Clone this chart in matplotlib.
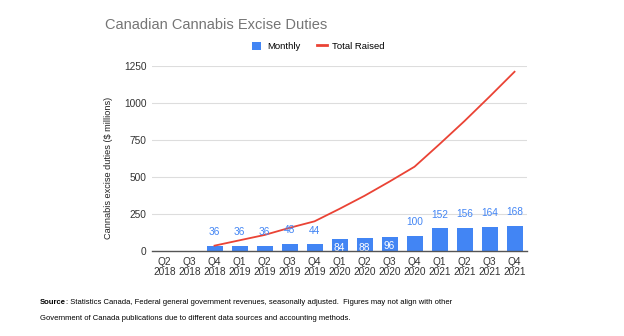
import matplotlib
matplotlib.use('Agg')
import matplotlib.pyplot as plt
from matplotlib.lines import Line2D
from matplotlib.patches import Patch
from matplotlib import font_manager

# quarters shown on the x axis
quarters = ['Q2\n2018', 'Q3\n2018', 'Q4\n2018',
            'Q1\n2019', 'Q2\n2019', 'Q3\n2019', 'Q4\n2019',
            'Q1\n2020', 'Q2\n2020', 'Q3\n2020', 'Q4\n2020',
            'Q1\n2021', 'Q2\n2021', 'Q3\n2021', 'Q4\n2021']

# monthly excise duties ($ millions), None where no data
monthly = [None, None, 36, 36, 36, 48, 44, 84, 88, 96, 100, 152, 156, 164, 168]

# cumulative total raised ($ millions)
total_raised = [None, None, 36, 72, 108, 156, 200, 284, 372, 468, 568, 720, 876, 1040, 1208]

# labels drawn inside the bar (white) for these quarters
inside_label = ['Q1\n2020', 'Q2\n2020', 'Q3\n2020']

yticks = [0, 250, 500, 750, 1000, 1250]

blue = '#4285F4'
red = '#EA4335'

plt.rcParams['font.family'] = ['Liberation Sans', 'DejaVu Sans']

fig = plt.figure(figsize=(6.24, 3.36), dpi=100)
ax = fig.add_axes([0.2436, 0.253, 0.601, 0.552])

x = list(range(len(quarters)))
bx = [i for i, v in zip(x, monthly) if v is not None]
bv = [v for v in monthly if v is not None]
ax.bar(bx, bv, width=0.64, color=blue, zorder=2)

lx = [i for i, v in zip(x, total_raised) if v is not None]
lv = [v for v in total_raised if v is not None]
ax.plot(lx, lv, color=red, lw=1.3, zorder=3)

# value labels
for i, v in zip(bx, bv):
    if quarters[i] in inside_label:
        ax.annotate(str(v), (i, v), xytext=(0, -7), textcoords='offset points',
                    ha='center', va='center', color='white', fontsize=7.3, zorder=4)
    else:
        ax.annotate(str(v), (i, v), xytext=(0, 10), textcoords='offset points',
                    ha='center', va='center', color=blue, fontsize=7.3, zorder=4)

ax.set_xlim(-0.5, len(quarters) - 0.5)
ax.set_ylim(0, 1250)
ax.set_yticks(yticks)
ax.set_yticklabels([str(t) for t in yticks])
ax.set_xticks(x)
ax.set_xticklabels(quarters, linespacing=1.0)
ax.tick_params(axis='both', length=0, labelsize=7.3, colors='#333333')
ax.tick_params(axis='x', pad=4)
ax.tick_params(axis='y', pad=4)
ax.grid(axis='y', color='#dddddd', lw=0.8, zorder=0)
for s in ['top', 'right', 'left']:
    ax.spines[s].set_visible(False)
ax.spines['bottom'].set_color('#555555')
ax.spines['bottom'].set_linewidth(1.0)
ax.spines['bottom'].set_zorder(5)

ax.set_ylabel('Cannabis excise duties ($ millions)', fontsize=6.6, color='#222222')
ax.yaxis.set_label_coords(-0.105, 0.45)

fig.text(0.168, 0.925, 'Canadian Cannabis Excise Duties', fontsize=10.5, color='#757575',
         ha='left', va='center')

handles = [Patch(facecolor=blue, edgecolor='none'),
           Line2D([0], [0], color=red, lw=2)]
fig.legend(handles, ['Monthly', 'Total Raised'], loc='center', bbox_to_anchor=(0.51, 0.862),
           ncol=2, frameon=False, fontsize=6.8, handlelength=1.0, handleheight=1.0,
           columnspacing=1.8, handletextpad=0.6)

# footnote
narrow = 'Liberation Sans Narrow'
try:
    font_manager.findfont(narrow, fallback_to_default=False)
    fam = [narrow, 'Liberation Sans']
    fs = 6.2
except Exception:
    fam = ['Liberation Sans']
    fs = 5.5
src = fig.text(0.064, 0.099, 'Source', fontsize=fs, fontweight='bold', family=fam,
               ha='left', va='center')
fig.canvas.draw()
bb = src.get_window_extent(renderer=fig.canvas.get_renderer())
x_after = bb.x1 / fig.bbox.width
fig.text(x_after, 0.099,
         ': Statistics Canada, Federal general government revenues, seasonally adjusted.  '
         'Figures may not align with other',
         fontsize=fs, family=fam, ha='left', va='center')
fig.text(0.064, 0.053,
         'Government of Canada publications due to different data sources and accounting methods.',
         fontsize=fs, family=fam, ha='left', va='center')

fig.savefig('out.png', dpi=100)
